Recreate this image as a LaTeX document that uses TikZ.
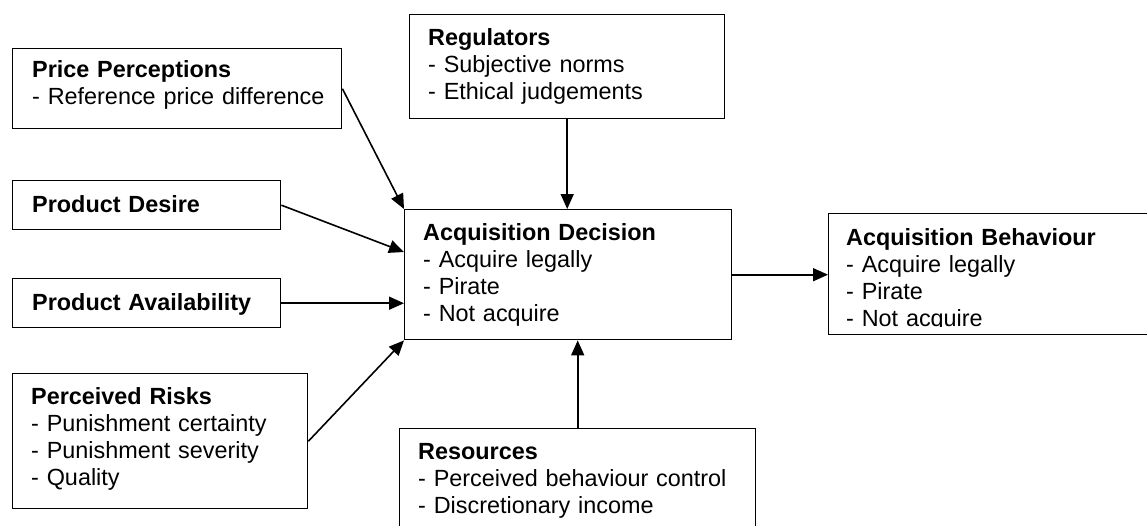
\documentclass[tikz,border=0pt]{standalone}
\usepackage{fontspec}
\setmainfont[WordSpace=0.6]{Liberation Sans}
\usetikzlibrary{arrows.meta}
\tikzset{
  box/.style={draw=black, line width=1.4pt, inner sep=0pt, anchor=north west, fill=white},
  txt/.style={anchor=base west, inner sep=0pt, text width=340pt, align=left,
              font=\fontsize{23.4}{27}\selectfont},
  arr/.style={draw=black, line width=1.6pt, -{Triangle[length=15pt,width=13pt]}}
}
\newcommand{\hd}[1]{\textbf{#1}}
\begin{document}
\begin{tikzpicture}[x=1pt,y=-1pt]
\clip (0,0) rectangle (1147,525);
\fill[white] (0,0) rectangle (1147,525);
% boxes
\node[box, minimum width=329pt, minimum height=80pt] (pp) at (12,48) {};
\node[box, minimum width=268pt, minimum height=49pt] (pd) at (12,180) {};
\node[box, minimum width=268pt, minimum height=49pt] (pa) at (12,278) {};
\node[box, minimum width=295pt, minimum height=135pt] (pr) at (12,373) {};
\node[box, minimum width=315pt, minimum height=104pt] (reg) at (409,14) {};
\node[box, minimum width=327pt, minimum height=130pt] (ad) at (404,209) {};
\node[box, minimum width=356pt, minimum height=104pt] (res) at (399,428) {};
\node[box, minimum width=330pt, minimum height=121pt] (ab) at (828,213) {};
% texts
\node[txt] (tpp) at (32,77) {\hd{Price Perceptions}\\- Reference price difference};
\node[txt] (tpd) at (32,212) {\hd{Product Desire}};
\node[txt] (tpa) at (32,310) {\hd{Product Availability}};
\node[txt] (tpr) at (31,404) {\hd{Perceived Risks}\\- Punishment certainty\\- Punishment severity\\- Quality};
\node[txt] (treg) at (428,45) {\hd{Regulators}\\- Subjective norms\\- Ethical judgements};
\node[txt] (tad) at (423,240) {\hd{Acquisition Decision}\\- Acquire legally\\- Pirate\\- Not acquire};
\node[txt] (tres) at (418,459) {\hd{Resources}\\- Perceived behaviour control\\- Discretionary income};
\begin{scope}
\clip (828,213) rectangle (1147,326);
\node[txt] (tab) at (846,245) {\hd{Acquisition Behaviour}\\- Acquire legally\\- Pirate\\- Not acquire};
\end{scope}
% connectors
\draw[arr] (pp.east) -- (ad.north west);
\draw[arr] (pd.east) -- ([yshift=-43pt]ad.north west);
\draw[arr] (pa.east) -- (pa.east -| ad.west);
\draw[arr] (pr.east) -- (ad.south west);
\draw[arr] (reg.south) -- (reg.south |- ad.north);
\draw[arr] (res.north) -- (res.north |- ad.south);
\draw[arr] (ad.east) -- (ad.east -| ab.west);
\end{tikzpicture}
\end{document}
